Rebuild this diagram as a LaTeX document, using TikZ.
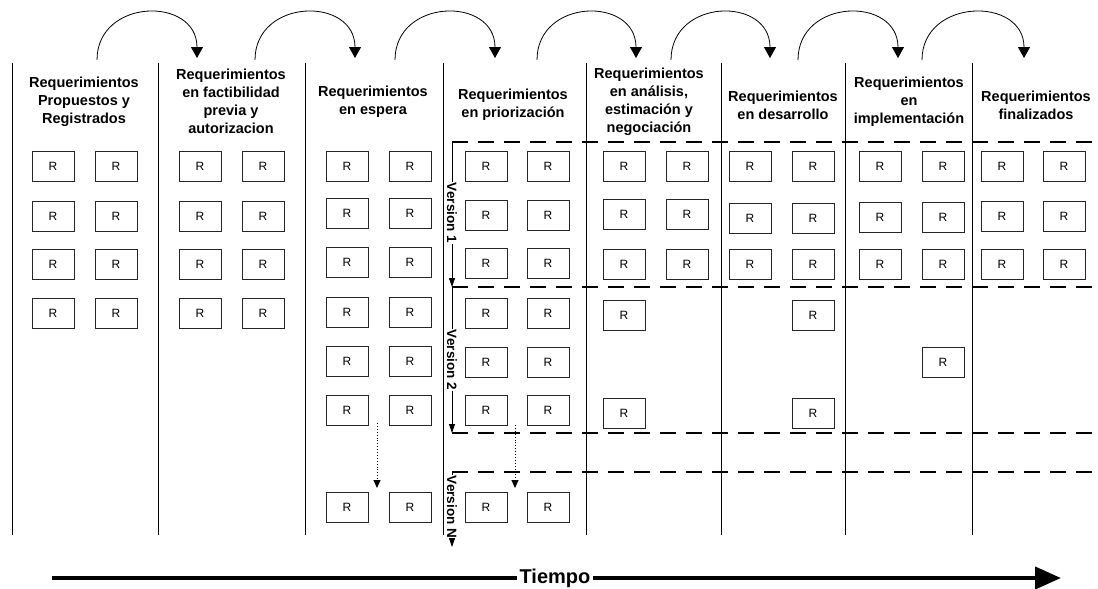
\documentclass[tikz,border=0pt]{standalone}
\usepackage{fontspec}
\setmainfont{Liberation Sans}
\usetikzlibrary{arrows.meta}
\begin{document}
\begin{tikzpicture}[x=1pt,y=-1pt,
  rbox/.style={draw=black!85, line width=0.8pt, minimum width=42pt, minimum height=30pt,
    inner sep=0pt, font=\fontsize{12}{14}\selectfont},
  header/.style={align=center, inner sep=0pt, font=\bfseries\fontsize{14.5}{18}\selectfont},
  colsep/.style={line width=0.8pt},
  hop/.style={line width=0.8pt, -{Triangle[length=11pt,width=12pt]}},
  vline/.style={line width=0.8pt},
  verline/.style={line width=0.8pt, -{Triangle[length=9pt,width=6pt]}},
  verlabel/.style={rotate=-90, inner xsep=1pt, inner ysep=0.5pt,
    font=\bfseries\fontsize{13.5}{16}\selectfont},
  vdash/.style={line width=2.6pt, dash pattern=on 16pt off 10pt},
  more/.style={line width=0.9pt, dotted, -{Triangle[length=8pt,width=7pt]}},
  timeline/.style={line width=4pt},
]
\useasboundingbox (0,0) rectangle (1098,589);

% column separators
\foreach \x [count=\i] in {12,158,305,443,586,721,845,972} {
  \coordinate (st\i) at (\x,63);
  \coordinate (sb\i) at (\x,535);
  \draw[colsep] (st\i) -- (sb\i);
}

% hops from one stage to the next
\foreach \i/\a/\b in {1/97/197, 2/255/355, 3/395/495, 4/537/636, 5/671/770, 6/798/898, 7/922/1024} {
  \coordinate (hop\i s) at (\a,60);
  \coordinate (hop\i e) at (\b,58);
  \draw[hop] (hop\i s) .. controls +(0,-62) and +(0,-62) .. (hop\i e);
}

% stage titles
\node[header] (h1) at (84,101.5) {Requerimientos\\Propuestos y\\Registrados};
\node[header] (h2) at (231,101.5) {Requerimientos\\en factibilidad\\previa y\\autorizacion};
\node[header] (h3) at (373,101.5) {Requerimientos\\en espera};
\node[header] (h4) at (513,105) {Requerimientos\\en priorización};
\node[header] (h5) at (649,101.5) {Requerimientos\\en análisis,\\estimación y\\negociación};
\node[header] (h6) at (783,105) {Requerimientos\\en desarrollo};
\node[header] (h7) at (909,101.5) {Requerimientos\\en\\implementación};
\node[header] (h8) at (1036,105) {Requerimientos\\finalizados};

% requirement boxes, two per row
\foreach \c/\xa/\xb/\rows in {
    1/53/116/{166,216,264,313},
    2/200/263/{166,216,264,313},
    3/347/410/{166,213,262,312,361,410,507},
    4/486/548/{166,215,263,313,362,410,507},
    5/624/687/{166,214,264},
    6/750/813/{166,218,264},
    7/880/943/{166,217,264},
    8/1002/1064/{166,216,264}} {
  \foreach \y [count=\r] in \rows {
    \node[rbox] (r\c-\r-a) at (\xa,\y) {R};
    \node[rbox] (r\c-\r-b) at (\xb,\y) {R};
  }
}
% single boxes of the second version
\node[rbox] (r5-4-a) at (624,315) {R};
\node[rbox] (r5-5-a) at (624,413) {R};
\node[rbox] (r6-4-b) at (813,315) {R};
\node[rbox] (r6-5-b) at (813,413) {R};
\node[rbox] (r7-4-b) at (943,362) {R};

% version bands
\foreach \k/\y in {1/142, 2/287, 3/433, 4/472} {
  \coordinate (d\k l) at (452,\y);
  \coordinate (d\k r) at (1092,\y);
  \draw[vdash] (d\k l) -- (d\k r);
}
\node[verlabel] (v1) at (452,213) {Version 1};
\node[verlabel] (v2) at (452,360) {Version 2};
\node[verlabel] (vN) at (452,507) {Version N};
\coordinate (vNend) at (452,547);
\draw[vline] (d1l) -- (v1.west);
\draw[verline] (v1.east) -- (d2l);
\draw[vline] (d2l) -- (v2.west);
\draw[verline] (v2.east) -- (d3l);
\draw[vline] (d4l) -- (vN.west);
\draw[verline] (vN.east) -- (vNend);

% more requirements further down
\coordinate (m1a) at (377,423);
\coordinate (m1b) at (377,488);
\coordinate (m2a) at (515,425);
\coordinate (m2b) at (515,488);
\draw[more] (m1a) -- (m1b);
\draw[more] (m2a) -- (m2b);

% time axis
\node[inner xsep=2pt, inner ysep=0pt, font=\bfseries\fontsize{20}{24}\selectfont] (tiempo) at (555,578) {Tiempo};
\coordinate (t0) at (52,578);
\coordinate (t1) at (1061,578);
\draw[timeline] (t0) -- (tiempo.west);
\draw[timeline, -{Triangle[length=26pt,width=22pt]}] (tiempo.east) -- (t1);
\end{tikzpicture}
\end{document}
